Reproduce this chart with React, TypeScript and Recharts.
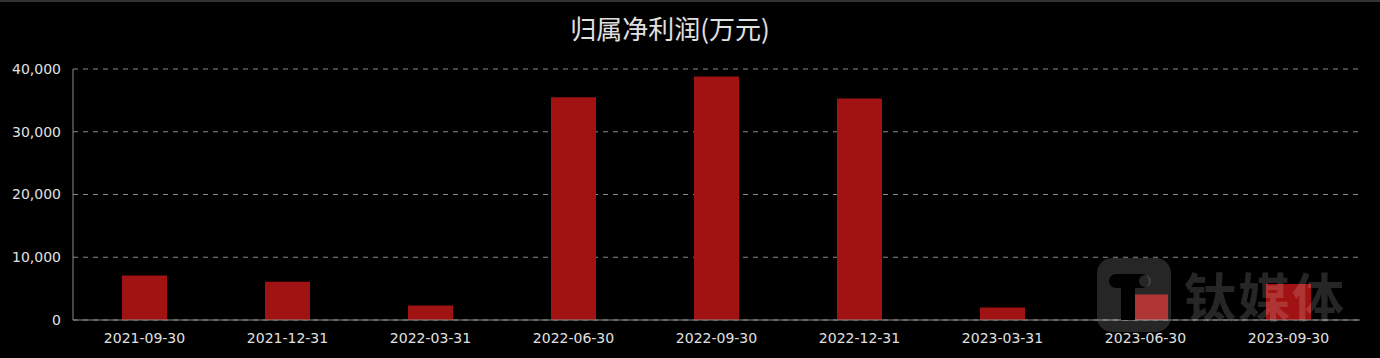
import { BarChart, Bar, XAxis, YAxis, CartesianGrid } from "recharts"

const periods = [
  "2021-09-30",
  "2021-12-31",
  "2022-03-31",
  "2022-06-30",
  "2022-09-30",
  "2022-12-31",
  "2023-03-31",
  "2023-06-30",
  "2023-09-30",
]

// 归属净利润, 万元
const netProfit = [7100, 6100, 2300, 35500, 38800, 35300, 2000, 4050, 5750]

const yTicks = [0, 10000, 20000, 30000, 40000]

const FONT = '"Noto Sans CJK SC", "Noto Sans", sans-serif'
const TICK_FONT = '"DejaVu Sans", sans-serif'
const BAR_COLOR = "#a11212"

const data = periods.map((p, i) => ({ period: p, value: netProfit[i] }))

function Watermark() {
  return (
    <div
      style={{
        position: "absolute",
        left: 1097,
        top: 256,
        display: "flex",
        alignItems: "center",
        pointerEvents: "none",
      }}
    >
      <svg width={74} height={74} viewBox="0 0 74 74">
        <rect x={0} y={0} width={74} height={74} rx={15} fill="rgba(255,255,255,0.15)" />
        <rect x={12} y={16} width={40} height={14} rx={7} fill="#000" />
        <rect x={24} y={22} width={14} height={40} fill="#000" />
        <circle cx={48} cy={23} r={6} fill="rgba(255,255,255,0.15)" />
      </svg>
      <span
        style={{
          marginLeft: 13,
          fontFamily: FONT,
          fontWeight: 700,
          fontSize: 52,
          lineHeight: 1,
          color: "rgba(255,255,255,0.15)",
          letterSpacing: 2,
        }}
      >
        钛媒体
      </span>
    </div>
  )
}

export default function App() {
  return (
    <div
      style={{
        position: "relative",
        width: 1380,
        height: 358,
        background: "#000",
        borderTop: "2px solid #333",
        boxSizing: "border-box",
        overflow: "hidden",
        fontFamily: FONT,
      }}
    >
      <style>{`body{margin:0;background:#000}`}</style>
      <div
        style={{
          position: "absolute",
          top: 11,
          left: 520,
          width: 300,
          textAlign: "center",
          fontSize: 26,
          color: "#e0e0e0",
          lineHeight: "30px",
        }}
      >
        归属净利润(万元)
      </div>
      <BarChart
        width={1380}
        height={356}
        data={data}
        margin={{ top: 67, right: 20, bottom: 8, left: 0 }}
      >
        <CartesianGrid
          vertical={false}
          stroke="#8a8a8a"
          strokeDasharray="5 5"
        />
        <XAxis
          dataKey="period"
          height={30}
          axisLine={{ stroke: "#8a8a8a" }}
          tickLine={false}
          tickSize={0}
          tickMargin={13}
          tick={{ fill: "#e0e0e0", fontSize: 14, fontFamily: TICK_FONT }}
          interval={0}
        />
        <YAxis
          width={73}
          domain={[0, 40000]}
          ticks={yTicks}
          axisLine={{ stroke: "#8a8a8a" }}
          tickLine={false}
          tickSize={0}
          tickMargin={12}
          tick={{ fill: "#e0e0e0", fontSize: 14, fontFamily: TICK_FONT }}
          tickFormatter={(v: number) => v.toLocaleString("en-US")}
        />
        <Bar dataKey="value" fill={BAR_COLOR} barSize={45} isAnimationActive={false} />
      </BarChart>
      <Watermark />
    </div>
  )
}
